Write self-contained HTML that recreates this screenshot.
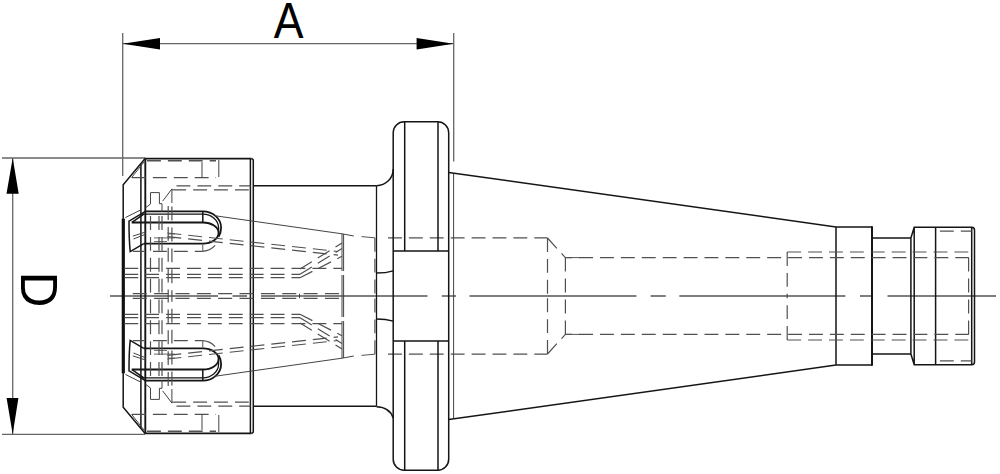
<!DOCTYPE html>
<html><head><meta charset="utf-8"><title>Drawing</title>
<style>
html,body{margin:0;padding:0;background:#fff;}
svg{display:block;}
.o{stroke:#151515;stroke-width:1.5;fill:none;}
.ob{stroke:#111;stroke-width:2.4;fill:none;}
.t{stroke:#444;stroke-width:1;fill:none;}
.h{stroke:#505050;stroke-width:1.2;fill:none;stroke-dasharray:13.9 7;}
.d{stroke:#666;stroke-width:1.3;fill:none;}
.c{stroke:#555;stroke-width:1.3;fill:none;}
.a{fill:#000;stroke:none;}
text{font-family:"Liberation Sans",sans-serif;fill:#000;}
</style></head>
<body>
<svg width="1000" height="474" viewBox="0 0 1000 474">
<rect width="1000" height="474" fill="#fff"/>

<!-- dimension A -->
<g id="dimA">
<path class="d" d="M122.7 33V176M453.7 33V161.4M122.7 43.7H453.7"/>
<path class="a" d="M122.7 43.7L160 38V49.4ZM453.7 43.7L416.6 38V49.4Z"/>
<text transform="translate(288.55 38.3) scale(0.945 1.04)" font-size="47.2" text-anchor="middle">A</text>
</g>

<!-- dimension D -->
<g id="dimD">
<path class="d" d="M2 158H145M2 434.3H145M12.7 158V434.3"/>
<path class="a" d="M12.7 158L6.5 193.8H18.7ZM12.7 434.3L6.6 398.1H18.4Z"/>
<text transform="translate(21.1 271.8) rotate(90) scale(1 1.045)" font-size="49.4">D</text>
</g>

<!-- centerline -->
<g id="center">
<path class="c" d="M110 296H218M232.5 296H247M261 296H427.5M441.8 296H456M469.5 296H636.4M650.6 296H665.8M679.3 296H845.4M860 296H872.8M887.5 296H996"/>
</g>

<!-- symmetric upper half -->
<defs>
<g id="half">
 <!-- nut outline -->
 <path class="o" d="M123.2 296V184.8L144.9 158.7M251.3 158.7Q253.3 158.7 253.3 160.7V296"/>
 <path class="o" style="stroke-width:1.8" d="M144.5 158.7H251.5"/>
 <path class="ob" style="stroke-width:3.2" d="M123.3 296V218.7"/>
 <path class="o" d="M250.4 159V296M140.9 164V296"/>
 <path class="o" style="stroke-width:1.9" d="M145.3 158.7V296"/>
 <path class="t" d="M144 162L131.6 177.6"/>
 <path class="h" d="M132 177.6H216"/>
 <path class="h" style="stroke-width:1.5" d="M147 160.7H216"/>
 <path class="t" d="M202 162V177.6M218.8 160V177"/>
 <path class="h" d="M176.5 185.9H250.4M172.2 189.9H250"/>
 <!-- slot -->
 <path class="o" style="stroke-width:1.8" d="M145.4 211.4H202.8A18.3 16.3 0 0 1 221.1 227.7Q221.1 233 218.6 236.7"/>
 <path class="o" style="stroke-width:1.3" d="M142.4 214.2H202.8A15.8 13.8 0 0 1 218.6 228V234"/>
 <path class="o" style="stroke-width:1.8" d="M131.7 222.5H202.8A15.8 10.6 0 0 1 218.6 233.1A15.8 10.6 0 0 1 202.8 243.6H143.8"/>
 <path class="o" d="M202.8 211.4V222.5"/>
 <path class="o" d="M145.4 211.4L129 221.2Q129 240 130.2 251.6L143.8 243.6M143.8 214.2L132 222.4"/>
 <path class="t" d="M125.4 217.6L140.2 210.2M132.8 236.1L145.7 232M133.5 239L145.7 234.2"/>
 <!-- dashed below slot -->
 <path class="h" d="M132.8 251.3H144M153 251.3H202.8"/>
 <path class="t" style="stroke:#555" d="M202.8 243.6V251.3"/>
 <path class="h" d="M202.8 251.3Q212 250.5 216.5 243.5"/>
 <!-- small internal shapes -->
 <path class="t" d="M145.3 208L150.5 204V192.6H159.4V203.7H162V212M162.7 201.1L171.9 188.9V203"/>
 <path class="t" style="stroke:#666" d="M168 233.9H175M154 237.9H175M154 241.6H167"/>
 <path class="h" d="M150.5 216V296M159 216V296M162 216V296M168.2 206V296M171.9 206.6V296"/>
 <!-- hidden horizontals collet -->
 <path class="h" d="M124.3 268.4H342M124.3 274.3H300M124.3 277.7H300"/>
 <path class="h" style="stroke-dasharray:14 7.35" d="M132.8 293.6H342.5"/>
 <path class="h" d="M167.4 233L338 251.5M167.4 236.6L338 255.1"/>
 <path class="h" d="M300 269L342 243M300 274.3L342 248.5M300 277.7L342 256.3"/>
 <path class="t" d="M299.5 293.7V296"/>
 <!-- body -->
 <path class="o" d="M253.3 185.7H376.5"/>
 <path class="o" style="stroke-width:1.3" d="M376.5 185.7V296"/>
 <path class="h" d="M374.9 237.8V296"/>
 <path class="t" d="M214.6 215.7L342 233.8L353.8 236M342 233.8V271M343.6 234V271M342 275V296M343.6 275V296"/>
 <path class="h" d="M388 237.8H547.5"/><path class="t" style="stroke:#555" d="M361.5 236.6L374.8 237.8"/>
 <path class="o" style="stroke-width:1.3" d="M376.5 273Q386 273 393.2 270.8"/>
 <!-- flange -->
 <path class="o" d="M393.2 296V132.7A11 11 0 0 1 404.2 121.7H437.7A11 11 0 0 1 448.7 132.7V296"/>
 <path class="o" d="M404.7 121.7V251.1M438 121.7V251.1M393.2 251.1H448.7"/>
 <path class="t" d="M453.6 174V296"/>
 <!-- taper -->
 <path class="o" d="M448.7 172.4L836 227H872M836 227V296M872 238H910.9L914.2 227.2H971.7Q974.5 227.4 974.5 230V296M910.9 238V296M914.2 227.2V296M935.6 227.2V296M971.7 227.2V296"/>
 <path class="o" style="stroke-width:2" d="M872 226.3V296"/>
 <!-- hidden bore -->
 <path class="h" d="M547.5 238V296M565.4 257.7V296M547.5 238L565.4 257.7"/>
 <path class="h" d="M565.4 257.6H968.8" stroke-dashoffset="7.2"/><path class="t" d="M565.4 257.6H580" style="stroke:#555"/>
 <path class="h" d="M787.2 252V296M787.2 252H971.7M968.6 257.7V296M939.9 231.1H971.7"/>
</g>
</defs>
<use href="#half"/>
<use href="#half" transform="translate(0 592) scale(1 -1)"/>

<!-- bottom fillet (asymmetric) -->
<path class="o" d="M376.5 185.7A16.6 16.6 0 0 0 393.2 169"/>
<path class="o" d="M376.5 406.7C385 407 391 411 393.2 418"/>
</svg>
</body></html>
